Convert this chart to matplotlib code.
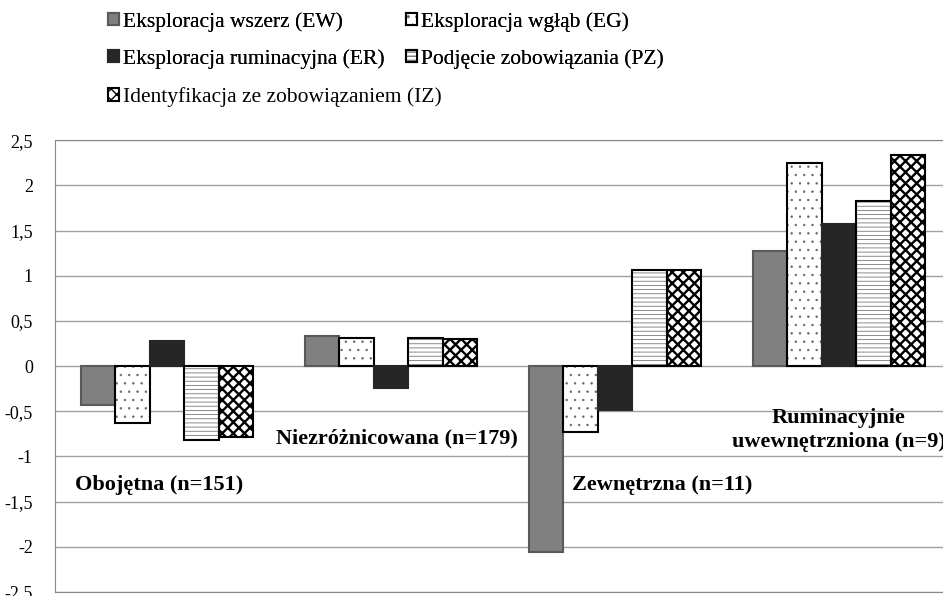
import matplotlib.pyplot as plt
import numpy as np
from matplotlib.legend_handler import HandlerTuple

plt.rcParams['font.family'] = ['Liberation Serif', 'DejaVu Serif']

groups = ['Obojętna (n=151)', 'Niezróżnicowana (n=179)', 'Zewnętrzna (n=11)',
          'Ruminacyjnie\nuwewnętrzniona (n=9)']
series = ['Eksploracja wszerz (EW)', 'Eksploracja wgłąb (EG)',
          'Eksploracja ruminacyjna (ER)', 'Podjęcie zobowiązania (PZ)',
          'Identyfikacja ze zobowiązaniem (IZ)']
ew = [-0.43, 0.33, -2.06, 1.27]
eg = [-0.63, 0.31, -0.73, 2.25]
er = [0.28, -0.24, -0.49, 1.57]
pz = [-0.82, 0.31, 1.06, 1.83]
iz = [-0.78, 0.30, 1.06, 2.34]
values = [ew, eg, er, pz, iz]
ticks = [-2.5, -2, -1.5, -1, -0.5, 0, 0.5, 1, 1.5, 2, 2.5]

# face, hatch colour, hatch, hatch linewidth, outline colour
styles = [
    ('#808080', '#808080', None, 0.5, '#5a5a5a'),
    ('white', '#666666', '..', 0.5, 'black'),
    ('#262626', '#262626', None, 0.5, '#262626'),
    ('white', '#777777', '----', 0.6, 'black'),
    ('white', 'black', 'xxx', 1.7, 'black'),
]

fig = plt.figure(figsize=(9.43, 5.96), dpi=100)
ax = fig.add_axes([0.0583, 0.0067, 0.950, 0.758])

x = np.arange(len(groups))
w = 0.154
handles = []
for i, (vals, st) in enumerate(zip(values, styles)):
    face, hcol, hatch, hlw, ecol = st
    with plt.rc_context({'hatch.linewidth': hlw}):
        b1 = ax.bar(x + (i - 2) * w, vals, w, color=face, edgecolor=hcol,
                    hatch=hatch, linewidth=0, zorder=3)
    for p in b1:
        if hasattr(p, 'set_hatch_linewidth'):
            p.set_hatch_linewidth(hlw)
    b2 = ax.bar(x + (i - 2) * w, vals, w, facecolor='none', edgecolor=ecol,
                linewidth=1.5, zorder=4)
    handles.append((b1[0], b2[0]))

ax.set_xlim(-0.5, 3.5)
ax.set_ylim(-2.5, 2.5)
ax.set_yticks(ticks)
ax.set_yticklabels([('%g' % t).replace('.', ',') for t in ticks], fontsize=13)
ax.set_xticks([])
ax.tick_params(axis='y', length=0, pad=16)
ax.grid(axis='y', color='#a0a0a0', linewidth=1, zorder=0)
for s in ax.spines.values():
    s.set_color('#888888')

# group labels
lab_kw = dict(fontsize=16, fontweight='bold', zorder=5)
ax.text(-0.41, -1.32, groups[0], va='center', ha='left', **lab_kw)
ax.text(0.487, -0.80, groups[1], va='center', ha='left', **lab_kw)
ax.text(1.81, -1.32, groups[2], va='center', ha='left', **lab_kw)
ax.text(3.0, -0.71, groups[3], va='center', ha='center', linespacing=1.25, **lab_kw)

leg_kw = dict(frameon=False, fontsize=15.5, handlelength=0.5, handleheight=0.5,
              handletextpad=0.2, handler_map={tuple: HandlerTuple(ndivide=1, pad=0)})
order = [0, 2, 1, 3]
leg1 = fig.legend([handles[i] for i in order], [series[i] for i in order], ncol=2,
                  loc='upper left', bbox_to_anchor=(0.094, 1.012), labelspacing=0.8,
                  columnspacing=1.0, **leg_kw)
fig.add_artist(leg1)
fig.legend([handles[4]], [series[4]], loc='upper left',
           bbox_to_anchor=(0.094, 0.886), **leg_kw)

fig.savefig('out.png', dpi=100)
